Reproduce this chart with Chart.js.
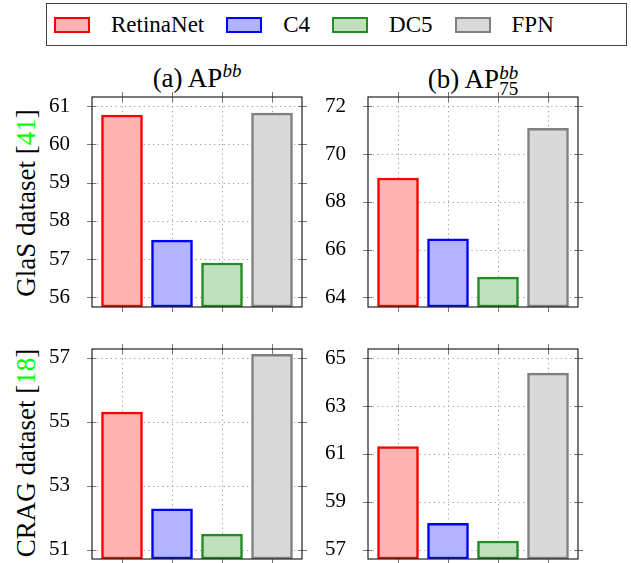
<!DOCTYPE html>
<html>
<head>
<meta charset="utf-8">
<script src="https://cdn.jsdelivr.net/npm/chart.js@4.4.1/dist/chart.umd.min.js"></script>
<style>
  body { margin: 0; background: #fff; font-family: "Liberation Serif", serif; }
  #fig { position: relative; width: 631px; height: 563px; overflow: hidden; }
  canvas { position: absolute; }
  .legend { position: absolute; left: 46px; top: 3px; width: 581px; height: 43px; box-sizing: border-box;
            border: 1px solid #444; display: flex; align-items: center; padding-left: 7px; font-size: 23px; }
  .sw { width: 32px; height: 12px; border: 2px solid; margin-right: 21px; }
  .lab { margin-right: 22px; }
  .title { position: absolute; width: 210px; text-align: center; font-size: 27px; line-height: 27px; white-space: nowrap; }
  .sup { font-size: 19px; font-style: italic; position: relative; top: -10px; }
  .stack { display: inline-block; vertical-align: -7px; line-height: 16px; text-align: left; }
  .stack span { display: block; font-size: 19px; }
  .stack i { font-style: italic; }
  .ylab { position: absolute; width: 210px; height: 30px; line-height: 30px; text-align: center;
          font-size: 27px; transform: rotate(-90deg); white-space: nowrap; }
  .ref { color: #00ff00; }
</style>
</head>
<body>
<div id="fig">
  <div class="legend" id="legend"></div>
  <div class="title" style="left:92px; top:65px;">(a) AP<span class="sup">bb</span></div>
  <div class="title" style="left:368px; top:65px;">(b) AP<span class="stack"><span><i>bb</i></span><span>75</span></span></div>
  <div class="ylab" style="left:-79px; top:188px;">GlaS dataset [<span class="ref">41</span>]</div>
  <div class="ylab" style="left:-79px; top:438px;">CRAG dataset [<span class="ref">18</span>]</div>
  <canvas id="c1"></canvas>
  <canvas id="c2"></canvas>
  <canvas id="c3"></canvas>
  <canvas id="c4"></canvas>
</div>
<script>
// methods compared
const methods = ["RetinaNet", "C4", "DC5", "FPN"];

// values
const glasAP = [60.77, 57.5, 56.9, 60.82];
const glasAP75 = [69.0, 66.45, 64.85, 71.08];
const cragAP = [55.31, 52.28, 51.49, 57.11];
const cragAP75 = [61.3, 58.1, 57.36, 64.37];

// y tick labels per panel
const glasAPTicks = [56, 57, 58, 59, 60, 61];
const glasAP75Ticks = [64, 66, 68, 70, 72];
const cragAPTicks = [51, 53, 55, 57];
const cragAP75Ticks = [57, 59, 61, 63, 65];

const fills = ["#ffb3b3", "#b3b3ff", "#bfdfbf", "#d9d9d9"];
const edges = ["#ff0000", "#0000ff", "#228b22", "#808080"];
const serif = "'Liberation Serif', serif";

// legend
const legend = document.getElementById("legend");
methods.forEach((m, i) => {
  const sw = document.createElement("div");
  sw.className = "sw";
  sw.style.background = fills[i];
  sw.style.borderColor = edges[i];
  const lab = document.createElement("span");
  lab.className = "lab";
  lab.textContent = m;
  legend.appendChild(sw);
  legend.appendChild(lab);
});

// chart area is 200 wide (50 px per bar), the frame sits 5 px outside it
// M has to cover the y label padding chart.js reserves above and below
const BOX = 210, PAD = 5, M = 34, YW = 60;

const frame = {
  id: "frame",
  beforeDatasetsDraw(chart) {
    const { ctx, chartArea: a, scales: { x, y } } = chart;
    const l = a.left - PAD, r = a.right + PAD;
    ctx.save();
    // horizontal dotted grid across the full frame
    ctx.strokeStyle = "#999";
    ctx.lineWidth = 1;
    ctx.setLineDash([1.2, 3.5]);
    ctx.beginPath();
    y.ticks.forEach(t => {
      const p = Math.round(y.getPixelForValue(t.value)) + 0.5;
      ctx.moveTo(l, p); ctx.lineTo(r, p);
    });
    ctx.stroke();
    // tick marks crossing the frame
    ctx.setLineDash([]);
    ctx.strokeStyle = "#777";
    ctx.beginPath();
    y.ticks.forEach(t => {
      const p = Math.round(y.getPixelForValue(t.value)) + 0.5;
      ctx.moveTo(l - 5, p); ctx.lineTo(l + 4, p);
      ctx.moveTo(r - 4, p); ctx.lineTo(r + 5, p);
    });
    x.ticks.forEach((t, i) => {
      const p = Math.round(x.getPixelForTick(i)) + 0.5;
      ctx.moveTo(p, a.top - 5); ctx.lineTo(p, a.top + 5);
      ctx.moveTo(p, a.bottom - 4); ctx.lineTo(p, a.bottom + 5);
    });
    ctx.stroke();
    ctx.restore();
  },
  afterDatasetsDraw(chart) {
    const { ctx, chartArea: a } = chart;
    ctx.save();
    ctx.strokeStyle = "#222";
    ctx.lineWidth = 1.2;
    ctx.strokeRect(a.left - PAD, a.top, a.right - a.left + 2 * PAD, a.bottom - a.top);
    ctx.restore();
  }
};

function makePanel(id, left, top, values, ticks, yMin, yMax) {
  const cv = document.getElementById(id);
  cv.style.left = (left - YW) + "px";
  cv.style.top = (top - M) + "px";
  cv.width = BOX + YW + 14;
  cv.height = BOX + 2 * M;

  new Chart(cv, {
    type: "bar",
    data: {
      labels: methods,
      datasets: [{
        data: values,
        backgroundColor: fills,
        borderColor: edges,
        borderWidth: 2.5,
        borderSkipped: false,
        barThickness: 41,
        base: yMin
      }]
    },
    options: {
      responsive: false,
      animation: false,
      layout: { padding: { left: 0, right: 14 + PAD, top: M, bottom: 0 } },
      plugins: { legend: { display: false }, tooltip: { enabled: false } },
      scales: {
        x: {
          offset: true,
          afterFit: ax => { ax.height = M; },
          ticks: { display: false },
          grid: { offset: false, color: "#999", lineWidth: 1, drawTicks: false },
          border: { display: false, dash: [1.2, 3.5] }
        },
        y: {
          min: yMin,
          max: yMax,
          afterBuildTicks: ax => { ax.ticks = ticks.map(v => ({ value: v })); },
          afterFit: ax => { ax.width = YW + PAD; },
          ticks: { color: "#000", padding: 14 + PAD, font: { family: serif, size: 21 } },
          grid: { display: false },
          border: { display: false }
        }
      }
    },
    plugins: [frame]
  });
}

makePanel("c1", 92, 97, glasAP, glasAPTicks, 55.75, 61.24);
makePanel("c2", 368, 97, glasAP75, glasAP75Ticks, 63.6, 72.39);
makePanel("c3", 92, 349, cragAP, cragAPTicks, 50.71, 57.28);
makePanel("c4", 368, 349, cragAP75, cragAP75Ticks, 56.61, 65.38);
</script>
</body>
</html>
